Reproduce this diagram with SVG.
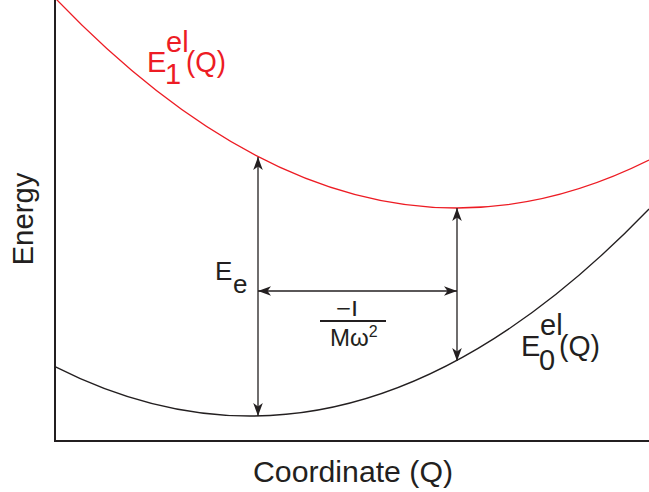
<svg xmlns="http://www.w3.org/2000/svg" width="649" height="492" viewBox="0 0 649 492">
<style>
.t{font-family:"Liberation Sans",Arial,sans-serif;fill:#231f20}
.red{fill:#ed1c24}
.axis{stroke:#231f20;stroke-width:2;fill:none}
.curve{fill:none;stroke-width:1.3}
.arr{stroke:#231f20;stroke-width:1.3;fill:none;marker-start:url(#ah);marker-end:url(#ah)}
</style>
<defs>
<marker id="ah" viewBox="-13 -6 14 12" refX="0" refY="0" markerWidth="14" markerHeight="12" markerUnits="userSpaceOnUse" orient="auto-start-reverse">
<path d="M0,0 L-13,-4.8 L-9.5,0 L-13,4.8 Z" fill="#231f20"/>
</marker>
</defs>
<g id="axes">
<line class="axis" x1="55" y1="0" x2="55" y2="442"/>
<line class="axis" x1="54" y1="441" x2="649" y2="441"/>
<text class="t" font-size="30" transform="translate(33,219) rotate(-90)" text-anchor="middle" textLength="93" lengthAdjust="spacingAndGlyphs">Energy</text>
<text class="t" x="353" y="482" font-size="30" text-anchor="middle" textLength="200" lengthAdjust="spacingAndGlyphs">Coordinate (Q)</text>
</g>
<g id="curve-excited">
<path class="curve" stroke="#ed1c24" d="M55,-2.1 Q352,308.3 649,160.1"/>
<text class="t red" font-size="29"><tspan x="147" y="72">E</tspan><tspan x="166" y="52">el</tspan><tspan x="165" y="84">1</tspan><tspan x="186" y="72" textLength="40" lengthAdjust="spacingAndGlyphs">(Q)</tspan></text>
</g>
<g id="curve-ground">
<path class="curve" stroke="#231f20" d="M55,366.6 Q352,517.2 649,209"/>
<text class="t" font-size="29"><tspan x="521" y="356">E</tspan><tspan x="540" y="335">el</tspan><tspan x="539" y="370">0</tspan><tspan x="559" y="356" textLength="41" lengthAdjust="spacingAndGlyphs">(Q)</tspan></text>
</g>
<g id="labels">
<text class="t" font-size="26"><tspan x="215" y="280">E</tspan><tspan x="233" y="293">e</tspan></text>
<text class="t" x="347" y="316" font-size="22" text-anchor="middle" textLength="22" lengthAdjust="spacingAndGlyphs">−I</text>
<line x1="320" y1="321" x2="386" y2="321" stroke="#231f20" stroke-width="2"/>
<text class="t" x="330" y="346" font-size="24">Mω<tspan font-size="16" dy="-9">2</tspan></text>
</g>
<g id="connectors">
<line class="arr" x1="258" y1="157" x2="258" y2="416"/>
<line class="arr" x1="457" y1="208" x2="457" y2="361"/>
<line class="arr" x1="258" y1="291" x2="457" y2="291"/>
</g>
</svg>
